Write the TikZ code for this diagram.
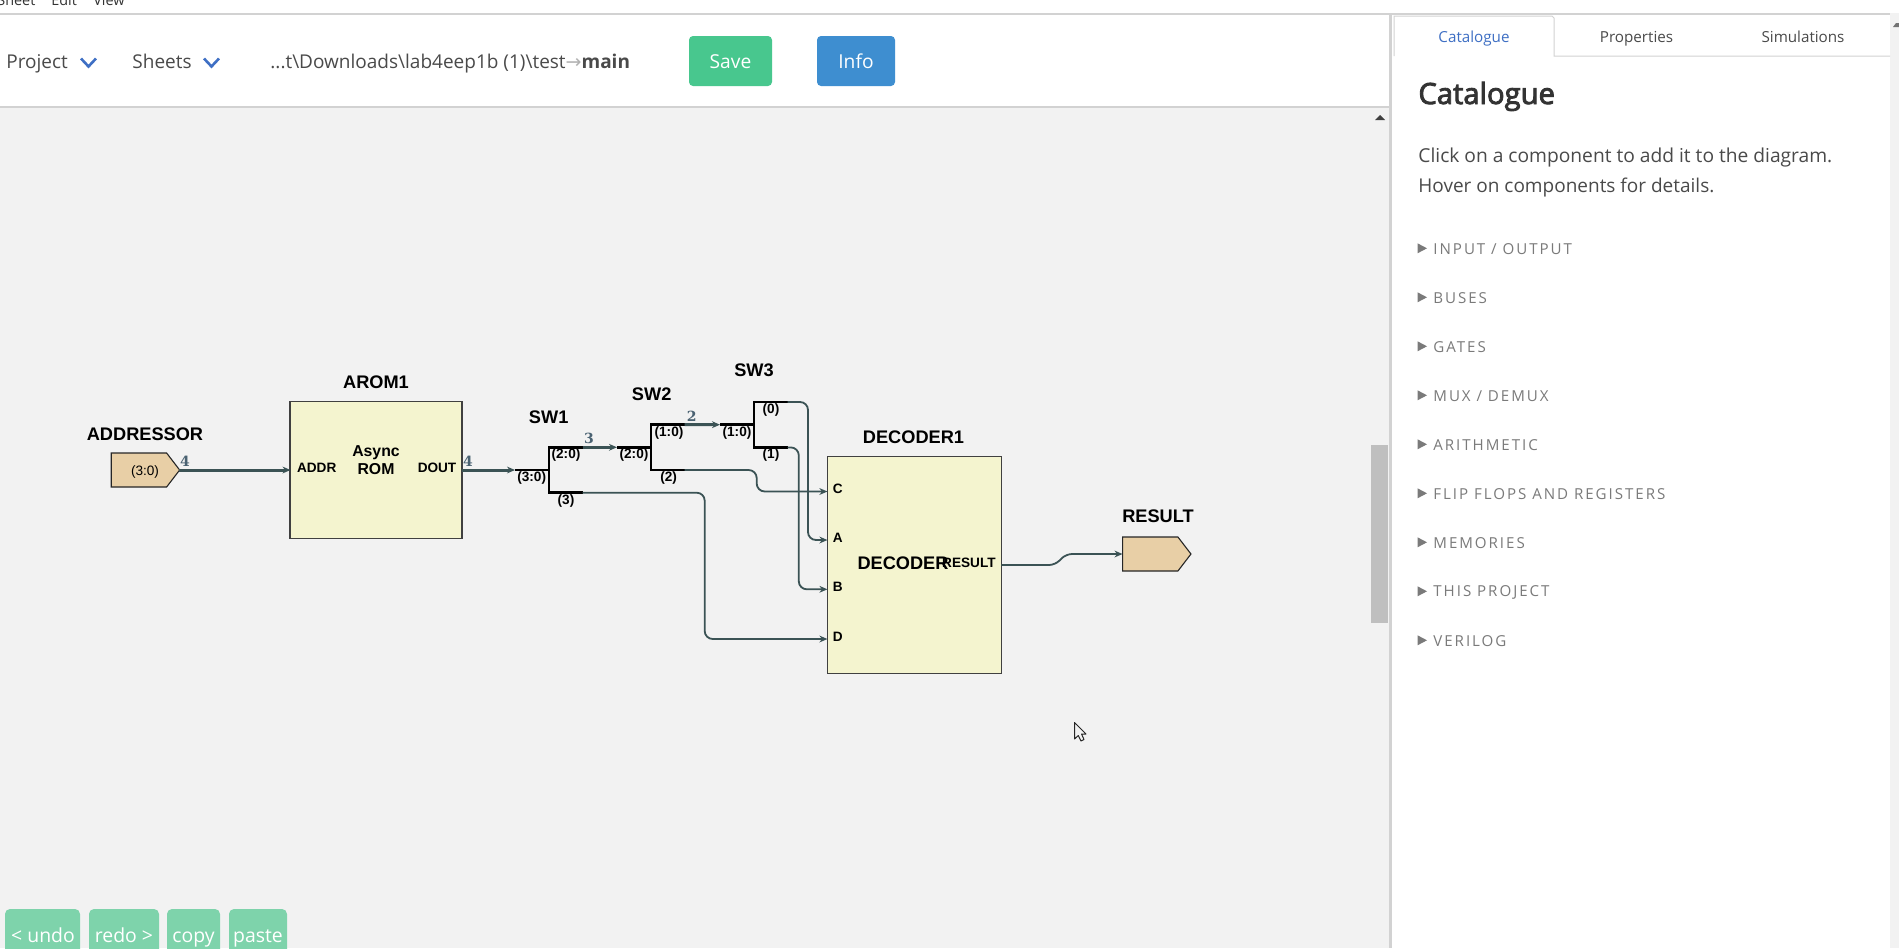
\documentclass[tikz,border=0pt]{standalone}
\usepackage{fontspec}
\setmainfont{Open Sans}
\newfontfamily\arialfont{Liberation Sans}
\newfontfamily\labelfont{DejaVu Serif}
\newfontfamily\symfont{DejaVu Sans}
\newfontfamily\listfont[LetterSpace=13]{Open Sans}
\newfontfamily\headfont[RawFeature={embolden=3}]{Open Sans}
\usetikzlibrary{arrows.meta,positioning,shapes.symbols}

\definecolor{canvas}{HTML}{F2F2F2}
\definecolor{rule}{HTML}{D2D2D2}
\definecolor{pinfill}{HTML}{E8CFA6}
\definecolor{boxfill}{HTML}{F4F4CF}
\definecolor{wirecol}{HTML}{3B5355}
\definecolor{widthcol}{HTML}{4A6272}
\definecolor{uitext}{HTML}{4A4A4A}
\definecolor{tabblue}{HTML}{3E6FC4}
\definecolor{savecol}{HTML}{48C78E}
\definecolor{infocol}{HTML}{3E8ED0}
\definecolor{editcol}{HTML}{7ED3AB}
\definecolor{listcol}{HTML}{7A7A7A}

\begin{document}
\begin{tikzpicture}[
	x = 0.5pt, y = -0.5pt, % one unit is one pixel of the screenshot
	> = {Stealth[length=4pt, width=3.4pt]},
	pin/.style={signal, signal to=east, signal pointer angle=105, draw=black!85, line width=0.55pt, fill=pinfill, minimum width=34.2pt, minimum height=17pt, inner sep=0pt, anchor=west},
	block/.style={rectangle, draw=black!75, line width=0.6pt, fill=boxfill, inner sep=0pt},
	title/.style={font=\arialfont\bfseries\fontsize{9.1}{10}\selectfont, inner sep=0pt, text=black},
	port/.style={font=\arialfont\bfseries\fontsize{6.8}{8}\selectfont, inner sep=0pt, text=black},
	inner/.style={font=\arialfont\bfseries\fontsize{7.9}{9.2}\selectfont, align=center, inner sep=0pt, text=black},
	buswidth/.style={font=\labelfont\bfseries\fontsize{7}{8}\selectfont, inner sep=0pt, text=widthcol},
	bus/.style={->, draw=wirecol, line width=1.5pt},
	wire/.style={->, draw=wirecol, line width=0.9pt, rounded corners=4pt},
	swline/.style={draw=black, line width=1.4pt},
	ui/.style={font=\fontsize{9.5}{11}\selectfont, inner sep=0pt, anchor=base, text=uitext},
	btn/.style={rounded corners=2pt, text=white, font=\fontsize{9.6}{11}\selectfont, inner sep=0pt, text height=7pt, text depth=0pt},
	editbtn/.style={rounded corners=2.5pt, fill=editcol},
	tab/.style={font=\fontsize{7.6}{9}\selectfont, inner sep=0pt, anchor=base, text=uitext},
	]
	\useasboundingbox (0,0) rectangle (1899,948);
	\clip (0,0) rectangle (1899,948);

	% Page background and bars
	\fill[white] (0,0) rectangle (1899,948);
	\fill[canvas] (0,108) rectangle (1389,948);
	\fill[canvas] (1890,13) rectangle (1899,948);
	\fill[rule] (0,13) rectangle (1890,15);
	\fill[rule] (0,106) rectangle (1389,108);
	\fill[rule] (1389,15) rectangle (1392,948);
	\fill[black!55] (1893,27) -- (1896,23) -- (1899,23) -- (1899,27) -- cycle;

	% Menu line, cut by the top edge
	\node[ui, anchor=base west, text=black!80, font=\fontsize{7.2}{9}\selectfont] (menuS) at (-3,5) {Sheet};
	\node[ui, anchor=base west, text=black!80, font=\fontsize{7.2}{9}\selectfont] (menuE) at (51,5) {Edit};
	\node[ui, anchor=base west, text=black!80, font=\fontsize{7.2}{9}\selectfont] (menuV) at (93,5) {View};

	% Toolbar
	\node[ui, anchor=base west] (project) at (6,68) {Project};
	\node[ui, anchor=base west] (sheets) at (132,68) {Sheets};
	\draw[tabblue, line width=1.3pt] (81,58.5) -- (88.5,66.5) -- (96,58.5);
	\draw[tabblue, line width=1.3pt] (204,58.5) -- (211.5,66.5) -- (219,58.5);
	\node[ui, anchor=base west] (filepath) at (270,68) {...t\textbackslash Downloads\textbackslash lab4eep1b (1)\textbackslash test{\symfont\textcolor{black!30}{→}}\textbf{main}};
	\node[btn, fill=savecol, minimum width=41.5pt, minimum height=25pt] (save) at (730.5,61) {Save};
	\node[btn, fill=infocol, minimum width=39pt, minimum height=25pt] (info) at (856,61) {Info};

	% Canvas scroll bar
	\fill[black!75] (1375,120) -- (1380,115) -- (1385,120) -- cycle;
	\fill[black!25] (1371,445) rectangle (1388,623);

	% Catalogue panel
	\draw[rule, line width=0.5pt] (1394,56) |- (1396,16) -- (1552,16) -- (1554,18) -- (1554,56) -- (1890,56);
	\node[tab, text=tabblue] (tabC) at (1474,42) {Catalogue};
	\node[tab] (tabP) at (1636.5,42) {Properties};
	\node[tab] (tabS) at (1803,42) {Simulations};
	\node[ui, anchor=base west, text=black!80, font=\headfont\fontsize{14.6}{17}\selectfont] (heading) at (1418,104) {Catalogue};
	\node[ui, anchor=base west, font=\fontsize{9.6}{12}\selectfont] (help1) at (1418,162) {Click on a component to add it to the diagram.};
	\node[ui, anchor=base west, font=\fontsize{9.5}{12}\selectfont] (help2) at (1418,192) {Hover on components for details.};
	\foreach \lbl [count=\i, evaluate=\i as \ypos using 248.3+49*(\i-1)] in {INPUT / OUTPUT, BUSES, GATES, MUX / DEMUX, ARITHMETIC, FLIP FLOPS AND REGISTERS, MEMORIES, THIS PROJECT, VERILOG}
	{
		\fill[listcol] (1417.5,\ypos-5) -- (1427,\ypos) -- (1417.5,\ypos+5) -- cycle;
		\node[anchor=west, inner sep=0pt, text=listcol, font=\listfont\fontsize{7.55}{9}\selectfont] (cat\i) at (1433,\ypos+1) {\lbl};
	}

	% Edit buttons at the bottom edge
	\fill[editbtn] (5,909) rectangle (80,960);
	\fill[editbtn] (89,909) rectangle (159,960);
	\fill[editbtn] (167,909) rectangle (220,960);
	\fill[editbtn] (229,909) rectangle (287,960);
	\node[ui, text=white, font=\fontsize{9.7}{12}\selectfont] (undo) at (43,942) {< undo};
	\node[ui, text=white, font=\fontsize{9.7}{12}\selectfont] (redo) at (124,942) {redo >};
	\node[ui, text=white, font=\fontsize{9.7}{12}\selectfont] (copy) at (193.5,942) {copy};
	\node[ui, text=white, font=\fontsize{9.7}{12}\selectfont] (paste) at (258,942) {paste};

	% Components
	\node[pin] (ADDRESSOR) at (110.7,470) {};
	\node[block, minimum width=86pt, minimum height=68.5pt] (AROM) at (376,470) {};
	\node[block, minimum width=87pt, minimum height=108.3pt] (DECODER) at (914.4,565) {};
	\node[pin] (RESULT) at (1122,554) {};

	\node[title] (ADDRESSORt) at (145,434) {ADDRESSOR};
	\node[title] (AROMt) at (376,382.7) {AROM1};
	\node[title] (SW1t) at (548.7,417) {SW1};
	\node[title] (SW2t) at (651.7,394) {SW2};
	\node[title] (SW3t) at (754,370.7) {SW3};
	\node[title] (DECODERt) at (913.5,437.3) {DECODER1};
	\node[title] (RESULTt) at (1158,516.7) {RESULT};

	\node[inner sep=0pt, font=\arialfont\fontsize{6.8}{8}\selectfont] (ADDRESSORr) at (145,472) {(3:0)};
	\node[inner] (AROMm) at (376,460) {Async\\ROM};
	\node[port, anchor=west] (AROMa) at (296.7,468) {ADDR};
	\node[port, anchor=east] (AROMd) at (456.7,468) {DOUT};
	\node[port] (DECc) at (837.7,489.3) {C};
	\node[port] (DECa) at (837.7,538) {A};
	\node[port] (DECb) at (837.7,587.3) {B};
	\node[port] (DECd) at (837.7,637.3) {D};
	\node[title] (DECm) at (903,563.7) {DECODER};
	\node[port, anchor=east] (DECr) at (996,563) {RESULT};

	% Bus switches: centre of the fork, then its three ends
	\foreach \sw/\xpos/\ypos in {SW1/549/470, SW2/651/447.3, SW3/754/424.7}
	{
		\coordinate (\sw i) at (\xpos-34,\ypos);
		\coordinate (\sw h) at (\xpos+33.7,\ypos-22.7);
		\coordinate (\sw l) at (\xpos+33.7,\ypos+22.7);
		\draw[swline] (\sw i) -- (\xpos,\ypos);
		\draw[swline, line join=miter] (\sw h) -| (\xpos,\ypos) |- (\sw l);
	}
	\node[port] (SW1pi) at (531.7,477.7) {(3:0)};
	\node[port] (SW1ph) at (566,455) {(2:0)};
	\node[port] (SW1pl) at (566,501) {(3)};
	\node[port] (SW2pi) at (634,454.7) {(2:0)};
	\node[port] (SW2ph) at (669,433) {(1:0)};
	\node[port] (SW2pl) at (668.7,478) {(2)};
	\node[port] (SW3pi) at (737,433) {(1:0)};
	\node[port] (SW3ph) at (771,410) {(0)};
	\node[port] (SW3pl) at (771,454.7) {(1)};

	\node[buswidth] (w1) at (185,461) {4};
	\node[buswidth] (w2) at (468,461) {4};
	\node[buswidth] (w3) at (589,438) {3};
	\node[buswidth] (w4) at (691.7,416.7) {2};

	% Connector ends on the components
	\coordinate (ADDRq) at (179,470);
	\coordinate (AROMin) at (290.5,470);
	\coordinate (AROMout) at (461.5,470);
	\coordinate (DECinC) at (827.4,491.5);
	\coordinate (DECinA) at (827.4,540);
	\coordinate (DECinB) at (827.4,589.3);
	\coordinate (DECinD) at (827.4,639);
	\coordinate (DECout) at (1001.4,565);
	\coordinate (RESin) at (1122.5,554);

	% Paths connecting them
	\path (ADDRq) edge[bus] (AROMin);
	\path (AROMout) edge[bus] (SW1i);
	\path (SW1h) edge[bus] (SW2i);
	\path (SW2h) edge[bus] (SW3i);
	\draw[wire] (SW3h) -| (808,540) -- (DECinA);
	\draw[wire] (SW3l) -| (798.8,589.3) -- (DECinB);
	\draw[wire] (SW2l) -| (756.7,491.5) -- (DECinC);
	\draw[wire] (SW1l) -| (704.7,639) -- (DECinD);
	\draw[wire, rounded corners=3pt] (DECout) -- (1055,565) -- (1066,554) -- (RESin);

	% Mouse pointer
	\draw[fill=canvas, draw=black!85, line width=0.5pt, line join=round] (1074.5,722.5) -- (1074.5,739) -- (1078.3,735.5) -- (1081,741) -- (1084,739.5) -- (1081.5,734) -- (1086,734) -- cycle;

\end{tikzpicture}
\end{document}
